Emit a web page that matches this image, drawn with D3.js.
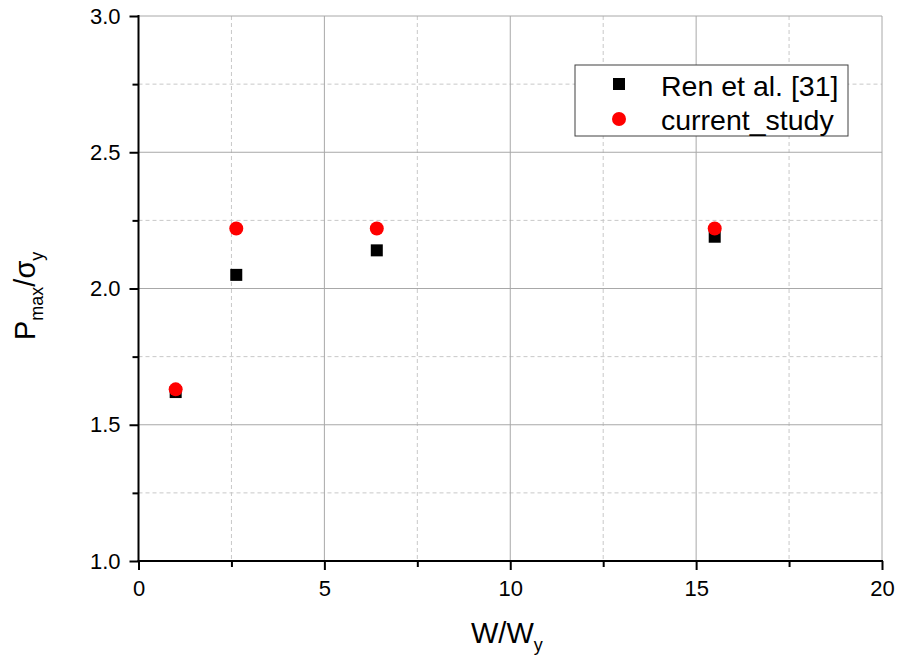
<!DOCTYPE html>
<html><head><meta charset="utf-8">
<script src="https://cdn.jsdelivr.net/npm/d3@7"></script>
<style>body{margin:0;background:#fff;} text{font-family:Arial,"Liberation Sans",sans-serif;}</style>
</head><body><svg id="c" width="899" height="663"></svg>
<script>
const seriesNames = ["Ren et al. [31]", "current_study"];
const renX = [1.0, 2.63, 6.41, 15.5];
const renY = [1.62, 2.05, 2.14, 2.19];
const curX = [1.0, 2.63, 6.41, 15.5];
const curY = [1.63, 2.22, 2.22, 2.22];
const xTicks = [0, 5, 10, 15, 20];
const xMinor = [2.5, 7.5, 12.5, 17.5];
const yTicks = [1.0, 1.5, 2.0, 2.5, 3.0];
const yMinor = [1.25, 1.75, 2.25, 2.75];

const svg = d3.select("#c");
const L = 138.5, R = 882, T = 16, B = 561;
const x = d3.scaleLinear().domain([0, 20]).range([L, R]);
const y = d3.scaleLinear().domain([1, 3]).range([B, T]);

// grid
const g = svg.append("g");
g.selectAll(".vmin").data(xMinor).join("line").attr("x1", d => x(d)).attr("x2", d => x(d)).attr("y1", T).attr("y2", B)
  .attr("stroke", "#c8c8c8").attr("stroke-width", 1).attr("stroke-dasharray", "4,3");
g.selectAll(".hmin").data(yMinor).join("line").attr("y1", d => y(d)).attr("y2", d => y(d)).attr("x1", L).attr("x2", R)
  .attr("stroke", "#c8c8c8").attr("stroke-width", 1).attr("stroke-dasharray", "4,3");
g.selectAll(".vmaj").data(xTicks.filter(d => d > 0)).join("line").attr("x1", d => x(d)).attr("x2", d => x(d)).attr("y1", T).attr("y2", B)
  .attr("stroke", "#a8a8a8").attr("stroke-width", 1);
g.selectAll(".hmaj").data(yTicks.filter(d => d > 1)).join("line").attr("y1", d => y(d)).attr("y2", d => y(d)).attr("x1", L).attr("x2", R)
  .attr("stroke", "#a8a8a8").attr("stroke-width", 1);

// axes
const xAxis = d3.axisBottom(x).tickValues(xTicks).tickFormat(d3.format("d")).tickSize(9).tickPadding(10);
const xAxisMinor = d3.axisBottom(x).tickValues(xMinor).tickFormat("").tickSize(6);
const yAxis = d3.axisLeft(y).tickValues(yTicks).tickFormat(d3.format(".1f")).tickSize(9).tickPadding(9);
const yAxisMinor = d3.axisLeft(y).tickValues(yMinor).tickFormat("").tickSize(6);
function style(sel) {
  sel.select(".domain").remove();
  sel.selectAll("line").attr("stroke", "#000").attr("stroke-width", 2);
  sel.selectAll("text").attr("fill", "#000").style("font-size", "22px").style("font-family", "Arial, 'Liberation Sans', sans-serif");
}
svg.append("g").attr("transform", `translate(0,${B})`).call(xAxisMinor).call(style);
svg.append("g").attr("transform", `translate(0,${B})`).call(xAxis).call(style);
svg.append("g").attr("transform", `translate(${L},0)`).call(yAxisMinor).call(style);
svg.append("g").attr("transform", `translate(${L},0)`).call(yAxis).call(style);
svg.append("line").attr("x1", L).attr("x2", L).attr("y1", T - 1).attr("y2", B + 1).attr("stroke", "#000").attr("stroke-width", 2);
svg.append("line").attr("x1", L - 1).attr("x2", R + 1).attr("y1", B).attr("y2", B).attr("stroke", "#000").attr("stroke-width", 2);

// data
const ren = renX.map((v, i) => ({ x: v, y: renY[i] }));
const cur = curX.map((v, i) => ({ x: v, y: curY[i] }));
const sq = 12;
svg.append("g").selectAll("rect").data(ren).join("rect")
  .attr("x", d => x(d.x) - sq / 2).attr("y", d => y(d.y) - sq / 2).attr("width", sq).attr("height", sq).attr("fill", "#000");
svg.append("g").selectAll("circle").data(cur).join("circle")
  .attr("cx", d => x(d.x)).attr("cy", d => y(d.y)).attr("r", 7).attr("fill", "#ff0000");

// legend
const lg = svg.append("g");
lg.append("rect").attr("x", 575).attr("y", 65).attr("width", 273).attr("height", 71)
  .attr("fill", "#fff").attr("stroke", "#404040").attr("stroke-width", 1);
lg.append("rect").attr("x", 619 - sq / 2).attr("y", 84 - sq / 2).attr("width", sq).attr("height", sq).attr("fill", "#000");
lg.append("circle").attr("cx", 619).attr("cy", 119).attr("r", 7).attr("fill", "#ff0000");
lg.append("text").attr("x", 661).attr("y", 95.5).style("font-size", "28.5px").text(seriesNames[0]);
lg.append("text").attr("x", 661).attr("y", 129.5).style("font-size", "28.5px").text(seriesNames[1]);

// axis titles
const xt = svg.append("text").attr("x", 471).attr("y", 643).style("font-size", "29px").attr("fill", "#000");
xt.append("tspan").text("W/W");
xt.append("tspan").attr("dy", 8).style("font-size", "18px").text("y");

const yt = svg.append("text").attr("transform", "translate(35,340) rotate(-90)").style("font-size", "29px").attr("fill", "#000");
yt.append("tspan").text("P");
yt.append("tspan").attr("dy", 8).style("font-size", "18px").text("max");
yt.append("tspan").attr("dy", -8).text("/σ");
yt.append("tspan").attr("dy", 8).style("font-size", "18px").text("y");
</script></body></html>
